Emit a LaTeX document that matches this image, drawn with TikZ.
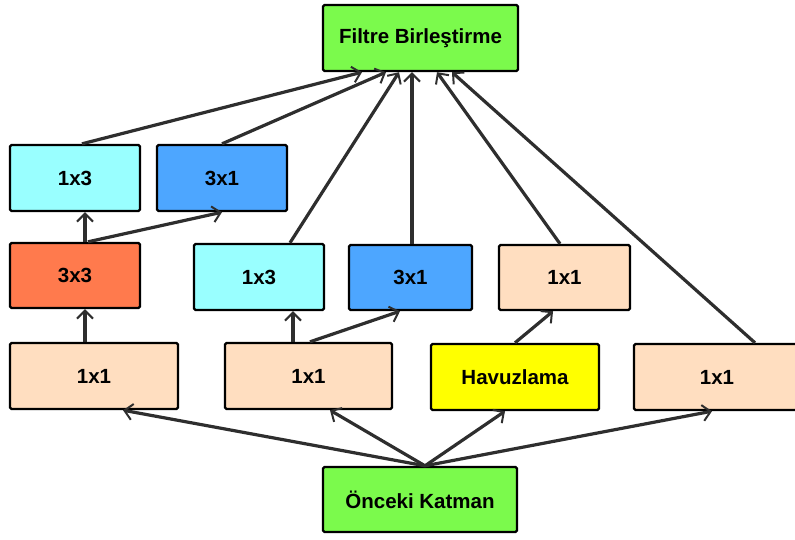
\documentclass[tikz,border=0pt]{standalone}
\usepackage{fontspec}
\setmainfont{Liberation Sans}
\usetikzlibrary{arrows.meta,positioning}
\definecolor{concat}{HTML}{7BFA4C}
\definecolor{cyanbox}{HTML}{99FFFF}
\definecolor{bluebox}{HTML}{4DA6FF}
\definecolor{convbox}{HTML}{FF7A4D}
\definecolor{peach}{HTML}{FFDEC0}
\definecolor{poolbox}{HTML}{FFFF00}
\definecolor{arrowgray}{HTML}{2E2E2E}

\begin{document}
\begin{tikzpicture}[x=1pt,y=-1pt,
  layer/.style={draw=black, line width=2.4pt, rounded corners=1.5pt,
    minimum width=130pt, minimum height=66pt, inner sep=0pt,
    font=\fontsize{20.5}{24}\selectfont\bfseries},
  wide/.style={layer, minimum width=168pt},
  link/.style={draw=arrowgray, line width=3.2pt,
    -{Straight Barb[length=8pt,width=16pt,line width=2pt]}}]
  \useasboundingbox (0,0) rectangle (795,539);

  % top and bottom
  \node[layer, fill=concat, minimum width=195pt] (filtre) at (420.5,38) {Filtre Birleştirme};
  \node[layer, fill=concat, minimum width=194pt, minimum height=65pt] (onceki) at (420,499.5) {Önceki Katman};

  % bottom row
  \node[wide, fill=peach] (a11) at (94,376) {1x1};
  \node[wide, fill=peach, minimum width=167pt] (b11) at (308.5,376) {1x1};
  \node[wide, fill=poolbox] (havuz) at (515,377) {Havuzlama};
  \node[wide, fill=peach, minimum width=166pt] (d11) at (717,377) {1x1};

  % middle row
  \node[layer, fill=convbox, minimum height=65pt] (a33) at (75,275.5) {3x3};
  \node[layer, fill=cyanbox] (b13) at (259,277) {1x3};
  \node[layer, fill=bluebox, minimum width=123pt, minimum height=65pt] (b31) at (410.5,277.5) {3x1};
  \node[layer, fill=peach, minimum width=131pt, minimum height=65pt] (c11) at (564.5,277.5) {1x1};

  % top row
  \node[layer, fill=cyanbox] (a13) at (75,178) {1x3};
  \node[layer, fill=bluebox] (a31) at (222,178) {3x1};

  % from the previous layer
  \draw[link] ([xshift=5]onceki.north) -- ([xshift=29]a11.south);
  \draw[link] ([xshift=5]onceki.north) -- ([xshift=21.5]b11.south);
  \draw[link] ([xshift=5]onceki.north) -- ([xshift=-10]havuz.south);
  \draw[link] ([xshift=5]onceki.north) -- ([xshift=-5]d11.south);

  % inner branches
  \draw[link] ([xshift=-9]a11.north) -- ([xshift=10]a33.south);
  \draw[link] ([xshift=10]a33.north) -- ([xshift=10]a13.south);
  \draw[link] ([xshift=13]a33.north) -- (a31.south);
  \draw[link] ([xshift=-15.5]b11.north) -- ([xshift=34]b13.south);
  \draw[link] ([xshift=1.5]b11.north) -- ([xshift=-10.5]b31.south);
  \draw[link] (havuz.north) -- ([xshift=-11.5]c11.south);

  % into the concatenation
  \draw[link] ([xshift=7]a13.north) -- ([xshift=-58.5]filtre.south);
  \draw[link] (a31.north) -- ([xshift=-34.5]filtre.south);
  \draw[link] ([xshift=31]b13.north) -- ([xshift=-21.5]filtre.south);
  \draw[link] ([xshift=1.5]b31.north) -- ([xshift=-8.5]filtre.south);
  \draw[link] ([xshift=-4.5]c11.north) -- ([xshift=16.5]filtre.south);
  \draw[link] ([xshift=38]d11.north) -- ([xshift=31.5]filtre.south);
\end{tikzpicture}
\end{document}
